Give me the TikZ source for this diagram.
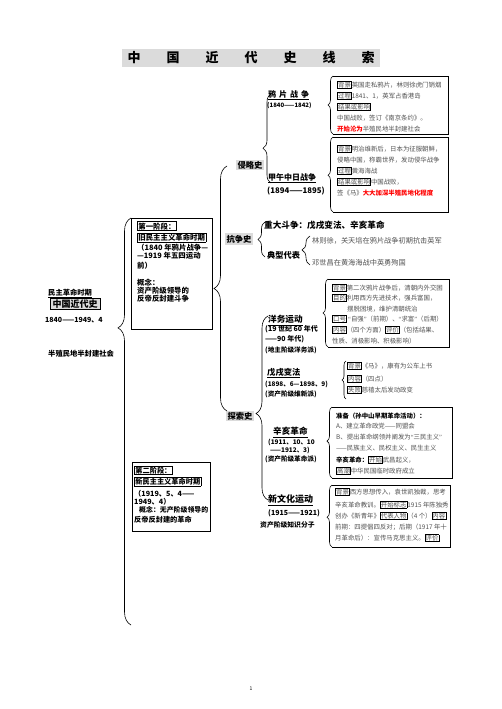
\documentclass[tikz,border=0pt]{standalone}
\usepackage{fontspec}
\setmainfont{Noto Sans CJK SC}
\newfontfamily\latq{Liberation Serif}
\usetikzlibrary{decorations.pathreplacing}
\definecolor{lblgray}{gray}{0.86}
\definecolor{bodytxt}{gray}{0.32}
\newcommand{\tg}[1]{{\color{black}\fboxsep=0.3pt\fboxrule=0.6pt\fbox{\color{bodytxt}#1}}}
\newcommand{\tgb}[1]{{\fboxsep=0.5pt\fboxrule=0.7pt\fbox{#1}}}
\newcommand{\lqm}{{\latq “}}
\newcommand{\rqm}{{\latq ”}}
\tikzset{
  body/.style={anchor=base west, inner sep=0pt, text=bodytxt, font=\fontsize{6.4}{7}\selectfont},
  hd/.style={anchor=base west, inner sep=0pt, font=\bfseries\fontsize{8.6}{9}\selectfont},
  dt/.style={anchor=base west, inner sep=0pt, font=\bfseries\fontsize{6.6}{7}\selectfont},
  stage/.style={anchor=base west, inner sep=0pt, font=\bfseries\fontsize{7.4}{8}\selectfont},
  sec/.style={fill=lblgray, inner sep=1.5pt, font=\bfseries\fontsize{8.3}{9}\selectfont},
  frame/.style={line width=0.9pt},
  br/.style args={#1/#2}{decorate, decoration={brace, amplitude=#1, aspect=#2}, line width=0.6pt}
}
\begin{document}
\begin{tikzpicture}[x=1pt,y=-1pt]
\useasboundingbox (0,0) rectangle (502,709);
\fill[white] (0,0) rectangle (502,709);

% title
\node[fill=lblgray, minimum width=258pt, minimum height=18pt, inner sep=0pt, font=\bfseries\fontsize{13}{13}\selectfont] (title) at (251,58) {中\hspace{26pt}国\hspace{26pt}近\hspace{26pt}代\hspace{26pt}史\hspace{26pt}线\hspace{26pt}索};

% left column
\node[hd, font=\bfseries\fontsize{7.3}{8}\selectfont] (lm) at (48,295) {\underline{民主革命时期}};
\node[draw, fill=lblgray, line width=0.9pt, inner sep=1pt, minimum width=50pt, font=\bfseries\fontsize{9}{9}\selectfont] (lz) at (75,304) {中国近代史};
\node[dt, font=\bfseries\fontsize{7}{7}\selectfont] (ld) at (45,322) {1840——1949、4};
\node[dt, font=\bfseries\fontsize{7.3}{8}\selectfont] (ls) at (48,356) {半殖民地半封建社会};

% stage boxes
\draw[frame] (131,218) rectangle (212,329);
\node[stage] (p1) at (137,229) {\tgb{第一阶段：}};
\node[stage] (p2) at (137,240.5) {\tgb{旧民主主义革命时期}};
\node[stage] (p3) at (137,250) {（1840 年鸦片战争—};
\node[stage] (p4) at (137,258.5) {—1919 年五四运动};
\node[stage] (p5) at (137,268) {前）};
\node[stage] (p6) at (137,285) {概念：};
\node[stage] (p7) at (137,293) {资产阶级领导的};
\node[stage] (p8) at (137,301) {反帝反封建斗争};

\draw[frame] (132,462) rectangle (210,531);
\node[stage, font=\bfseries\fontsize{7.2}{8}\selectfont] (q1) at (134,473) {\tgb{第二阶段：}};
\node[stage, font=\bfseries\fontsize{7.2}{8}\selectfont] (q2) at (134,484.5) {\tgb{新民主主义革命时期}};
\node[stage, font=\bfseries\fontsize{7.2}{8}\selectfont] (q3) at (134,496) {（1919、5、4——};
\node[stage, font=\bfseries\fontsize{7.2}{8}\selectfont] (q4) at (134,504.5) {1949、4）};
\node[stage, font=\bfseries\fontsize{6.9}{8}\selectfont] (q5) at (139,512.5) {概念：无产阶级领导的};
\node[stage, font=\bfseries\fontsize{7.2}{8}\selectfont] (q6) at (134,522) {反帝反封建的革命};

% section labels
\node[sec] (qls) at (250,165) {侵略史};
\node[sec] (kzs) at (239,239) {抗争史};
\node[sec] (tss) at (240,416) {探索史};

% big braces
\draw[br={13pt/0.73}] (131,625) -- (131,218);
\draw[br={13pt/0.5}] (227,411) -- (227,166);
\draw[br={8pt/0.39}] (271,183) -- (271,94);
\draw[br={7pt/0.5}] (265,257) -- (265,222);
\draw[br={8pt/0.52}] (310,265) -- (310,236);
\draw[br={12pt/0.47}] (268,500) -- (268,316);

% 侵略史
\node[hd, font=\bfseries\fontsize{8}{8}\selectfont] (yp) at (268,97) {\underline{鸦\hspace{3pt}片\hspace{3pt}战\hspace{3pt}争}};
\node[dt, font=\bfseries\fontsize{6}{6}\selectfont] (ypd) at (267,107.5) {(1840——1842)};
\node[hd, font=\bfseries\fontsize{8}{8}\selectfont] (jw) at (268,180.5) {\underline{甲午中日战争}};
\node[dt, font=\bfseries\fontsize{7.8}{8}\selectfont] (jwd) at (267,193) {(1894——1895)};

\draw[frame] (333,76) -- (448,76) -- (448,134) -- (333,134);
\draw[br={5pt/0.5}] (333,134) -- (333,76);
\node[body] (a1) at (337,87) {\tg{背景}英国走私鸦片，林则徐虎门销烟};
\node[body] (a2) at (337,98) {\tg{过程}1841、1，英军占香港岛};
\node[body] (a3) at (337,109) {\tg{结果或影响}};
\node[body] (a4) at (337,120) {中国战败，签订《南京条约》。};
\node[body] (a5) at (337,131) {{\color{red}\bfseries 开始沦为}半殖民地半封建社会};

\draw[frame] (333,137) -- (448,137) -- (448,212) -- (333,212);
\draw[br={5pt/0.49}] (333,212) -- (333,137);
\node[body] (b1) at (337,151.5) {\tg{背景}明治维新后，日本为征服朝鲜，};
\node[body] (b2) at (337,162.5) {侵略中国，称霸世界，发动侵华战争};
\node[body] (b3) at (337,173) {\tg{过程}黄海海战};
\node[body] (b4) at (337,184) {\tg{结果或影响}中国战败，};
\node[body] (b5) at (337,195.5) {签《马》{\color{red}\bfseries 大大加深半殖民地化程度}};

% 抗争史
\node[hd] (zd) at (264,228.5) {重大斗争：戊戌变法、辛亥革命};
\node[hd, font=\bfseries\fontsize{8.2}{9}\selectfont] (dx) at (267,258) {典型代表};
\node[body, font=\fontsize{7.2}{8}\selectfont] (lzx) at (312,243) {林则徐，关天培在鸦片战争初期抗击英军};
\node[body, font=\fontsize{7.2}{8}\selectfont] (dsc) at (312,265) {邓世昌在黄海海战中英勇殉国};

% 洋务运动
\node[hd] (yw) at (268,322.5) {\underline{洋务运动}};
\node[dt, font=\bfseries\fontsize{7}{7}\selectfont] (yw1) at (265,331) {(19 世纪 60 年代};
\node[dt, font=\bfseries\fontsize{7}{7}\selectfont] (yw2) at (265,341) {——90 年代)};
\node[dt] (yw3) at (265,352) {(地主阶级洋务派)};

\draw[frame] (328,279) -- (449,279) -- (449,347) -- (328,347);
\draw[br={5pt/0.5}] (328,347) -- (328,279);
\node[body] (c1) at (332,290) {\tg{背景}第二次鸦片战争后，清朝内外交困};
\node[body] (c2) at (332,300.5) {\tg{目的}利用西方先进技术，强兵富国，};
\node[body] (c3) at (347,311) {摆脱困境，维护清朝统治};
\node[body] (c4) at (332,321.5) {\tg{口号}\ \lqm 自强\rqm（前期）、\lqm 求富\rqm（后期）};
\node[body] (c5) at (332,332) {\tg{内容}（四个方面）\tg{评价}（包括结果、};
\node[body] (c6) at (332,343) {性质、消极影响、积极影响）};

% 戊戌变法
\node[hd, font=\bfseries\fontsize{8.3}{9}\selectfont] (wx) at (267,375) {\underline{戊戌变法}};
\node[dt, font=\bfseries\fontsize{6.4}{7}\selectfont] (wx1) at (265,386) {(1898、6—1898、9)};
\node[dt] (wx2) at (265,396.5) {(资产阶级维新派)};

\draw[br={4pt/0.5}] (346,399) -- (346,361);
\node[body] (d1) at (347,368.5) {\tg{背景}《马》，康有为公车上书};
\node[body] (d2) at (347,381.5) {\tg{内容}（四点）};
\node[body] (d3) at (347,392.5) {\tg{失败}慈禧太后发动政变};

% 辛亥革命
\node[hd] (xh) at (273,434.5) {\underline{辛亥革命}};
\node[dt, font=\bfseries\fontsize{6.4}{7}\selectfont] (xh1) at (268,444) {(1911、10、10};
\node[dt, font=\bfseries\fontsize{6.4}{7}\selectfont] (xh2) at (270,452.5) {——1912、3)};
\node[dt] (xh3) at (265,461) {(资产阶级革命派)};

\draw[frame] (332,407) -- (452,407) -- (452,478) -- (332,478);
\draw[br={5pt/0.52}] (332,478) -- (332,407);
\node[body] (e1) at (336,418.5) {{\color{black}\bfseries 准备（孙中山早期革命活动）：}};
\node[body] (e2) at (336,428.5) {A、建立革命政党——同盟会};
\node[body] (e3) at (336,439.5) {B、提出革命纲领并阐发为\lqm 三民主义\rqm};
\node[body] (e4) at (336,450.5) {——民族主义、民权主义、民生主义};
\node[body] (e5) at (336,462.5) {{\color{black}\bfseries 辛亥革命：}\tg{开始}武昌起义，};
\node[body] (e6) at (336,473.5) {\tg{高潮}中华民国临时政府成立};

% 新文化运动
\node[hd, font=\bfseries\fontsize{9}{9}\selectfont] (xw) at (268,502.5) {\underline{新文化运动}};
\node[dt, font=\bfseries\fontsize{7}{7}\selectfont] (xw1) at (268,515) {(1915——1921)};
\node[dt, font=\bfseries\fontsize{6.8}{7}\selectfont] (xw2) at (260,527) {资产阶级知识分子};

\draw[frame] (332,485) -- (450,485) -- (450,547) -- (332,547);
\draw[br={5pt/0.48}] (332,547) -- (332,485);
\node[body] (f1) at (335,494.5) {\tg{背景}西方思想传入，袁世凯独裁，思考};
\node[body] (f2) at (335,507) {辛亥革命教训。\tg{开始标志}1915 年陈独秀};
\node[body] (f3) at (335,518.5) {创办《新青年》\tg{代表人物}（4 个）\tg{内容}};
\node[body] (f4) at (335,529.5) {前期：四提倡四反对；后期（1917 年十};
\node[body] (f5) at (335,540.5) {月革命后）：宣传马克思主义。\tg{评价}};

% page number
\node[font=\fontsize{5}{5}\selectfont] (pg) at (251,689) {1};
\end{tikzpicture}
\end{document}
